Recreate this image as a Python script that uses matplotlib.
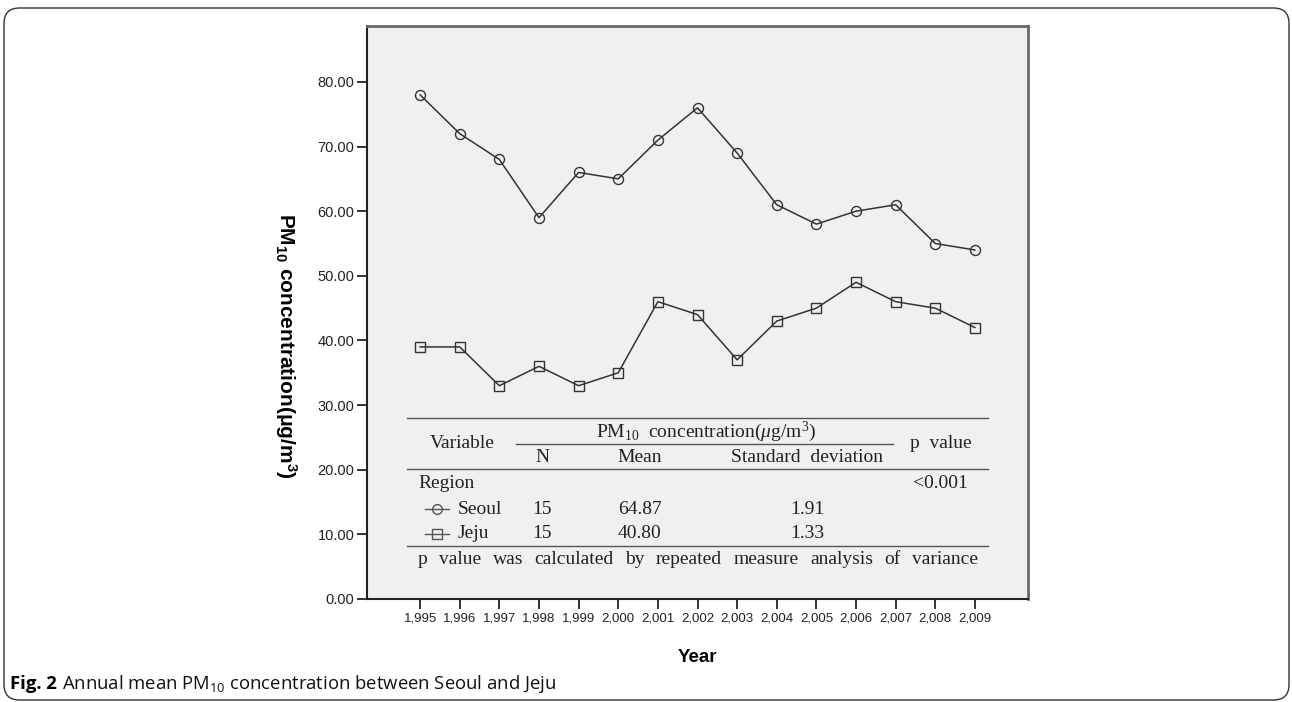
import matplotlib
matplotlib.use("Agg")
import matplotlib.pyplot as plt
from matplotlib.lines import Line2D
from matplotlib.patches import FancyBboxPatch

plt.rcParams['mathtext.fontset'] = 'custom'
plt.rcParams['mathtext.default'] = 'regular'
plt.rcParams['mathtext.it'] = 'Liberation Serif:italic'

years = [1995, 1996, 1997, 1998, 1999, 2000, 2001, 2002, 2003, 2004, 2005, 2006, 2007, 2008, 2009]
seoul = [78, 72, 68, 59, 66, 65, 71, 76, 69, 61, 58, 60, 61, 55, 54]
jeju = [39, 39, 33, 36, 33, 35, 46, 44, 37, 43, 45, 49, 46, 45, 42]
year_labels = [f"{y:,}" for y in years]
y_ticks = [0, 10, 20, 30, 40, 50, 60, 70, 80]
y_tick_labels = [f"{v:.2f}" for v in y_ticks]

table_regions = ["Seoul", "Jeju"]
table_n = ["15", "15"]
table_mean = ["64.87", "40.80"]
table_sd = ["1.91", "1.33"]
table_p = "<0.001"
footnote = "p value was calculated by repeated measure analysis of variance"

W, H = 1292, 702
fig = plt.figure(figsize=(W / 100, H / 100), dpi=100)
fig.patch.set_facecolor('white')


def fx(x):
    return x / W


def fy(y):
    return 1 - y / H


# outer rounded frame
frame = FancyBboxPatch((fx(4), fy(700)), fx(1289) - fx(4), fy(8) - fy(700),
                       boxstyle="round,pad=0,rounding_size=0.012",
                       transform=fig.transFigure, fill=False,
                       edgecolor='#333333', linewidth=1.0, mutation_aspect=W / H)
fig.patches.append(frame)

ax = fig.add_axes([fx(367), fy(599), fx(1028) - fx(367), fy(25.7) - fy(599)])
ax.set_facecolor('#f0f0f0')

line_col = '#333333'
ax.plot(years, seoul, color=line_col, lw=1.1, marker='o', ms=7.2,
        mfc='none', mec=line_col, mew=1.0)
ax.plot(years, jeju, color=line_col, lw=1.1, marker='s', ms=7.0,
        mfc='none', mec=line_col, mew=1.0)

ax.set_xlim(years[0] - 1.34, years[-1] + 1.34)
ax.set_ylim(0, 88.7)
ax.set_xticks(years)
ax.set_xticklabels(year_labels, fontsize=9.5, family='Liberation Sans', color='#222222')
ax.set_yticks(y_ticks)
ax.set_yticklabels(y_tick_labels, fontsize=10.5, family='Liberation Sans', color='#222222')
ax.tick_params(axis='both', direction='out', length=7, width=1.3, color='#222222')
ax.tick_params(axis='x', pad=3)
ax.tick_params(axis='y', pad=2)

for s in ['left', 'bottom']:
    ax.spines[s].set_color('#222222')
    ax.spines[s].set_linewidth(1.5)
for s in ['top', 'right']:
    ax.spines[s].set_color('#6a6a6a')
    ax.spines[s].set_linewidth(2.0)

ax.set_xlabel("Year", fontsize=13.5, fontweight='bold', family='Liberation Sans', labelpad=17)
fig.text(fx(286), fy(346), "PM$_{10}$ concentration(μg/m$^{3}$)", rotation=-90,
         fontsize=15, fontweight='bold', family='Liberation Sans',
         ha='center', va='center')

# table
serif = 'Liberation Serif'
tfs = 14
tcol = '#222222'
lcol = '#555555'


def hline(x0, x1, y, lw=1.0):
    fig.add_artist(Line2D([fx(x0), fx(x1)], [fy(y), fy(y)], transform=fig.transFigure,
                          color=lcol, lw=lw))


def ttext(x, y, s, ha='center', **kw):
    return fig.text(fx(x), fy(y), s, ha=ha, va='center', fontsize=tfs, family=serif,
                    color=tcol, **kw)


hline(407, 988, 418)
hline(516, 893, 444)
hline(407, 988, 469)
hline(407, 988, 546)

ttext(462, 444, "Variable")
ttext(706, 432, "PM$_{10}$  concentration($\\mathit{\\mu}$g/m$^{3}$)")
ttext(542, 457, "N")
ttext(640, 457, "Mean")
ttext(807, 457, "Standard  deviation")
ttext(941, 444, "p  value")
ttext(418, 483, "Region", ha='left')
ttext(940, 483, table_p)

row_y = [509, 534]
row_marker = ['o', 's']
for i, yy in enumerate(row_y):
    fig.add_artist(Line2D([fx(425), fx(449)], [fy(yy), fy(yy)], transform=fig.transFigure,
                          color='#555555', lw=1.0))
    fig.add_artist(Line2D([fx(437)], [fy(yy)], transform=fig.transFigure,
                          marker=row_marker[i], ms=7, mfc='none', mec='#555555', mew=1.0,
                          lw=0))
    ttext(458, yy, table_regions[i], ha='left')
    ttext(542, yy, table_n[i])
    ttext(640, yy, table_mean[i])
    ttext(807, yy, table_sd[i])

# justified footnote
words = footnote.split()
fig.canvas.draw()
renderer = fig.canvas.get_renderer()
tmp = [fig.text(0, 0, w, fontsize=tfs, family=serif) for w in words]
widths = [t.get_window_extent(renderer).width for t in tmp]
for t in tmp:
    t.remove()
x_left, x_right = 418, 978
gap = (x_right - x_left - sum(widths)) / (len(words) - 1)
x = x_left
for w, wd in zip(words, widths):
    ttext(x, 560, w, ha='left')
    x += wd + gap

# caption
cfs = 13.3
fig_lbl = fig.text(fx(10), fy(684), "Fig. 2", fontsize=cfs, fontweight='bold', family='Open Sans',
                   ha='left', va='center')
fig.canvas.draw()
lbl_w = fig_lbl.get_window_extent(fig.canvas.get_renderer()).width
fig.text(fx(10 + lbl_w + 5), fy(684), "Annual mean PM$_{10}$ concentration between Seoul and Jeju",
         fontsize=cfs, family='Open Sans', ha='left', va='center', color='#111111')

fig.savefig("out.png", dpi=100)
